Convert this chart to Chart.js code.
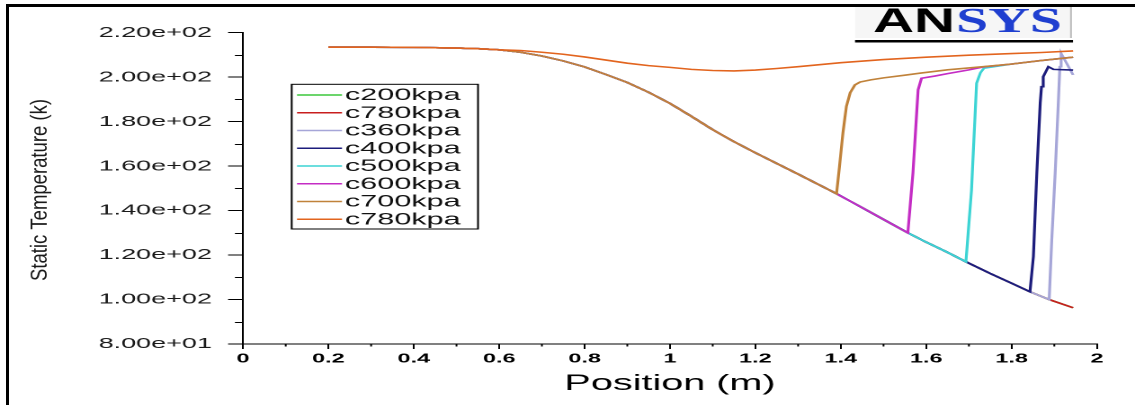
<!DOCTYPE html>
<html><head><meta charset="utf-8">
<script src="https://cdn.jsdelivr.net/npm/chart.js@4.4.1/dist/chart.umd.min.js"></script>
<style>
html,body{margin:0;padding:0;background:#fff;overflow:hidden;width:1135px;height:405px;}
#wrap{position:absolute;left:0;top:0;width:631px;height:405px;transform-origin:0 0;transform:scale(1.79873,1);}
#frame{position:absolute;left:6px;top:4px;width:1140px;height:420px;border-top:3px solid #000;border-left:3px solid #000;box-sizing:border-box;pointer-events:none;}
</style></head><body>
<div id="wrap"><canvas id="c" width="631" height="405" style="width:631px;height:405px"></canvas></div>
<div id="frame"></div>
<script>
// ---------- data ----------
const seriesNames = ['c200kpa','c780kpa','c360kpa','c400kpa','c500kpa','c600kpa','c700kpa','c780kpa'];
const seriesColors = ['#3cc83c','#c81e1e','#a6a6d8','#1c1c7c','#3cd4d4','#c42cc4','#c0823a','#e2641e'];

const xTicks = [0,0.2,0.4,0.6,0.8,1,1.2,1.4,1.6,1.8,2];
const xTickLabels = ['0','0.2','0.4','0.6','0.8','1','1.2','1.4','1.6','1.8','2'];
const xMinorTicks = [0.1,0.3,0.5,0.7,0.9,1.1,1.3,1.5,1.7,1.9];
const yTicks = [80,100,120,140,160,180,200,220];
const yTickLabels = ['8.00e+01','1.00e+02','1.20e+02','1.40e+02','1.60e+02','1.80e+02','2.00e+02','2.20e+02'];
const yMinorTicks = [90,110,130,150,170,190,210];

// common inlet part
const upstreamPos  = [0.2, 0.3, 0.4, 0.5, 0.55, 0.6];
const upstreamTemp = [213.5, 213.5, 213.4, 213.1, 212.8, 212.3];
// supersonic expansion up to the first shock
const expansionPos  = [0.65, 0.7, 0.75, 0.8, 0.85, 0.9, 0.95, 1.0, 1.05, 1.1, 1.15, 1.2, 1.3, 1.39];
const expansionTemp = [211.2, 209.5, 207.3, 204.6, 201.2, 197.6, 193.2, 188.2, 182.4, 176.4, 171.0, 166.0, 156.4, 147.6];
// continued expansion after x = 1.39
const lowerPos  = [1.45, 1.5, 1.557, 1.6, 1.65, 1.693, 1.75, 1.8, 1.843, 1.888, 1.944];
const lowerTemp = [141.3, 136.0, 130.0, 125.8, 121.2, 117.0, 111.7, 107.3, 103.5, 100.0, 96.3];
// subsonic (no shock) branch
const subsonicPos  = [0.65, 0.7, 0.75, 0.8, 0.85, 0.9, 0.95, 1.0, 1.05, 1.1, 1.15, 1.2, 1.25, 1.3, 1.35, 1.4, 1.5, 1.6, 1.7, 1.8, 1.87, 1.944];
const subsonicTemp = [212.0, 211.2, 210.3, 209.1, 207.7, 206.3, 205.2, 204.4, 203.5, 203.0, 202.8, 203.2, 203.9, 204.7, 205.6, 206.5, 207.9, 209.0, 209.9, 210.6, 211.1, 211.8];
// shock + recovery branches
const shock360Pos  = [1.894, 1.902, 1.909, 1.913, 1.916, 1.944];
const shock360Temp = [126.8, 156.8, 186.8, 204.7, 210.7, 201.0];
const shock400Pos  = [1.851, 1.859, 1.867, 1.870, 1.874, 1.886, 1.898, 1.944];
const shock400Temp = [119.3, 156.8, 188.4, 195.7, 200.2, 204.7, 203.5, 203.2];
const shock500Pos  = [1.706, 1.718, 1.727, 1.735, 1.8, 1.866, 1.944];
const shock500Temp = [149.0, 197.3, 202.0, 204.0, 205.9, 207.4, 209.0];
const shock600Pos  = [1.569, 1.581, 1.589, 1.62, 1.65, 1.7, 1.733, 1.8, 1.866, 1.944];
const shock600Temp = [157.0, 194.3, 199.5, 200.5, 201.6, 203.3, 204.6, 205.9, 207.4, 209.0];
const shock700Pos  = [1.397, 1.405, 1.413, 1.422, 1.433, 1.445, 1.47, 1.5, 1.55, 1.585, 1.65, 1.733, 1.8, 1.866, 1.944];
const shock700Temp = [160.0, 175.0, 186.8, 193.0, 196.5, 197.8, 198.8, 199.7, 200.9, 201.8, 203.3, 204.7, 205.9, 207.4, 209.0];

// ---------- build series ----------
function pts(posArrs, tempArrs){
  const out=[];
  posArrs.forEach((p,k)=>p.forEach((x,i)=>out.push({x:x,y:tempArrs[k][i]})));
  return out;
}
function lowerUpTo(x){ const n=lowerPos.indexOf(x)+1; return [lowerPos.slice(0,n), lowerTemp.slice(0,n)]; }
const L360=lowerUpTo(1.888), L400=lowerUpTo(1.843), L500=lowerUpTo(1.693), L600=lowerUpTo(1.557);
const seriesData = [
  pts([upstreamPos,expansionPos,lowerPos],[upstreamTemp,expansionTemp,lowerTemp]),
  pts([upstreamPos,expansionPos,lowerPos],[upstreamTemp,expansionTemp,lowerTemp]),
  pts([upstreamPos,expansionPos,L360[0],shock360Pos],[upstreamTemp,expansionTemp,L360[1],shock360Temp]),
  pts([upstreamPos,expansionPos,L400[0],shock400Pos],[upstreamTemp,expansionTemp,L400[1],shock400Temp]),
  pts([upstreamPos,expansionPos,L500[0],shock500Pos],[upstreamTemp,expansionTemp,L500[1],shock500Temp]),
  pts([upstreamPos,expansionPos,L600[0],shock600Pos],[upstreamTemp,expansionTemp,L600[1],shock600Temp]),
  pts([upstreamPos,expansionPos,shock700Pos],[upstreamTemp,expansionTemp,shock700Temp]),
  pts([upstreamPos,subsonicPos],[upstreamTemp,subsonicTemp])
];

const K = 1135/631;
const FONT = "'Liberation Sans', Arial, sans-serif";

const minorTicks = {
  id:'minorTicks',
  afterDraw(chart){
    const {ctx, chartArea:a, scales:{x,y}} = chart;
    ctx.save(); ctx.strokeStyle='#000'; ctx.lineWidth=1;
    ctx.beginPath();
    yMinorTicks.forEach(v=>{const py=Math.round(y.getPixelForValue(v))+0.5; ctx.moveTo(a.left-4.5,py); ctx.lineTo(a.left,py);});
    xMinorTicks.forEach(v=>{const px=x.getPixelForValue(v); ctx.moveTo(px,a.bottom); ctx.lineTo(px,a.bottom+2.5);});
    ctx.stroke(); ctx.restore();
  }
};
const yTitle = {
  id:'yTitle',
  afterDraw(chart){
    const ctx=chart.ctx; ctx.save();
    ctx.translate(40/K, 190); ctx.scale(1.25/K,1); ctx.rotate(-Math.PI/2);
    ctx.font = "18.5px "+FONT; ctx.fillStyle='#1a1a1a'; ctx.textAlign='center'; ctx.textBaseline='middle';
    ctx.fillText('Static Temperature (k)',0,0);
    ctx.restore();
  }
};
const boxLegend = {
  id:'boxLegend',
  afterDraw(chart){
    const ctx=chart.ctx; ctx.save();
    const L=291.7/K, R=478/K, T=84.3, B=229;
    ctx.fillStyle='#fff'; ctx.fillRect(L,T,R-L,B-T);
    ctx.strokeStyle='#000'; ctx.lineWidth=1; ctx.strokeRect(L,T,R-L,B-T);
    ctx.font="17px "+FONT; ctx.textBaseline='middle'; ctx.textAlign='left';
    chart.data.datasets.forEach((ds,i)=>{
      const yy=95+i*17.75;
      ctx.strokeStyle=ds.borderColor; ctx.lineWidth=1.6;
      ctx.beginPath(); ctx.moveTo(297/K,yy); ctx.lineTo(342/K,yy); ctx.stroke();
      ctx.fillStyle='#111'; ctx.fillText(ds.label,345/K,yy+0.5);
    });
    ctx.restore();
  }
};
const logo = {
  id:'logo',
  afterDraw(chart){
    const ctx=chart.ctx; ctx.save();
    ctx.fillStyle='#f6f6f6'; ctx.fillRect(855/K,7,(1071-855)/K,31);
    ctx.strokeStyle='#bbb'; ctx.lineWidth=1; ctx.beginPath(); ctx.moveTo(1071/K,7); ctx.lineTo(1071/K,38); ctx.stroke();
    ctx.fillStyle='#000'; ctx.fillRect(855/K,40,(1073-855)/K,2.5);
    function fit(txt,font,color,x0,x1,base){
      ctx.font=font; const w=ctx.measureText(txt).width;
      ctx.save(); ctx.translate(x0,base); ctx.scale((x1-x0)/w,1);
      ctx.fillStyle=color; ctx.textAlign='left'; ctx.textBaseline='alphabetic'; ctx.fillText(txt,0,0); ctx.restore();
    }
    fit('AN',"900 34px "+FONT,'#000',873/K,955/K,32);
    fit('SYS',"bold 35px 'Liberation Serif', serif",'#1f3fd0',956/K,1062/K,32);
    ctx.restore();
  }
};

new Chart(document.getElementById('c'), {
  type:'scatter',
  data:{ datasets: seriesNames.map((n,i)=>({
    label:n, data:seriesData[i], showLine:true, borderColor:seriesColors[i], backgroundColor:seriesColors[i],
    borderWidth:1.6, pointRadius:0, tension:0, fill:false, order:7-i
  }))},
  options:{
    responsive:false, animation:false, devicePixelRatio:2,
    layout:{padding:{left:0,top:32.7,right:631-1097/K,bottom:0}},
    plugins:{legend:{display:false}, tooltip:{enabled:false}},
    scales:{
      x:{type:'linear', min:0, max:2,
        afterBuildTicks:s=>{s.ticks=xTicks.map(v=>({value:v}));},
        afterFit:s=>{s.height=61;},
        ticks:{callback:(v,i)=>xTickLabels[i], autoSkip:false, maxRotation:0, padding:2, color:'#000',
          font:{family:FONT,size:13,weight:'bold'}},
        grid:{drawOnChartArea:false, drawTicks:true, tickLength:5, tickColor:'#000', color:'#000', lineWidth:1},
        border:{display:true,color:'#000',width:1},
        title:{display:true,text:'Position (m)',color:'#000',font:{family:FONT,size:22},padding:{top:0,bottom:8}}
      },
      y:{type:'linear', min:80, max:220,
        afterBuildTicks:s=>{s.ticks=yTicks.map(v=>({value:v}));},
        afterFit:s=>{s.width=243/K;},
        ticks:{callback:(v,i)=>yTickLabels[i], autoSkip:false, padding:9, color:'#1a1a1a',
          font:{family:FONT,size:15}},
        grid:{drawOnChartArea:false, drawTicks:true, tickLength:8.3, tickColor:'#000', color:'#000', lineWidth:1},
        border:{display:true,color:'#000',width:1}
      }
    }
  },
  plugins:[minorTicks,yTitle,boxLegend,logo]
});
</script>
</body></html>
